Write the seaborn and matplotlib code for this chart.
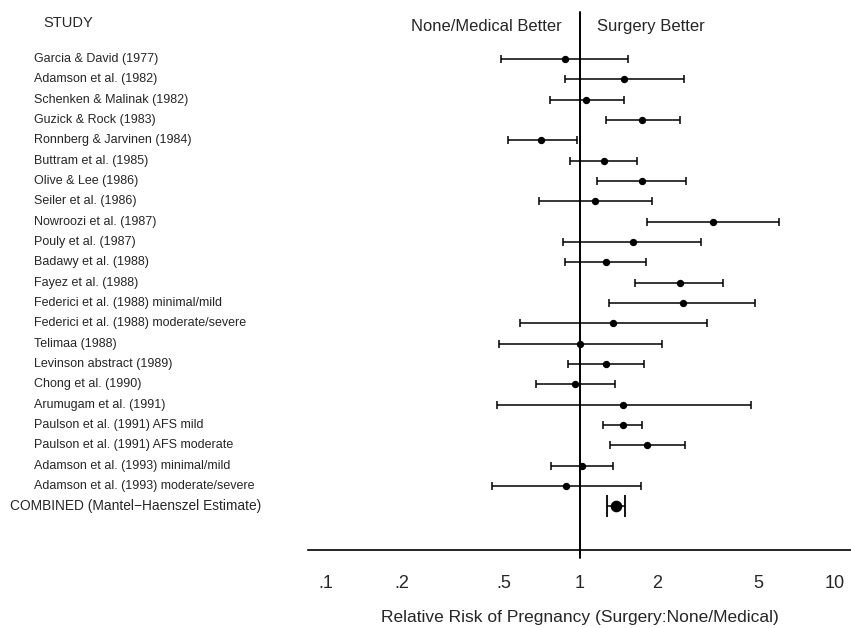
import pandas as pd
import matplotlib.pyplot as plt
import matplotlib.transforms as mtransforms
from matplotlib.ticker import NullLocator
import seaborn as sns

# study labels
studies = [
    'Garcia & David (1977)',
    'Adamson et al. (1982)',
    'Schenken & Malinak (1982)',
    'Guzick & Rock (1983)',
    'Ronnberg & Jarvinen (1984)',
    'Buttram et al. (1985)',
    'Olive & Lee (1986)',
    'Seiler et al. (1986)',
    'Nowroozi et al. (1987)',
    'Pouly et al. (1987)',
    'Badawy et al. (1988)',
    'Fayez et al. (1988)',
    'Federici et al. (1988) minimal/mild',
    'Federici et al. (1988) moderate/severe',
    'Telimaa (1988)',
    'Levinson abstract (1989)',
    'Chong et al. (1990)',
    'Arumugam et al. (1991)',
    'Paulson et al. (1991) AFS mild',
    'Paulson et al. (1991) AFS moderate',
    'Adamson et al. (1993) minimal/mild',
    'Adamson et al. (1993) moderate/severe',
]
rr = [0.87, 1.49, 1.06, 1.76, 0.70, 1.24, 1.75, 1.15, 3.34, 1.62, 1.26, 2.46,
      2.53, 1.35, 1.00, 1.27, 0.96, 1.48, 1.48, 1.84, 1.02, 0.88]
lower = [0.49, 0.87, 0.76, 1.26, 0.52, 0.91, 1.17, 0.69, 1.84, 0.86, 0.87, 1.65,
         1.30, 0.58, 0.48, 0.90, 0.67, 0.47, 1.23, 1.31, 0.77, 0.45]
upper = [1.54, 2.56, 1.49, 2.46, 0.97, 1.68, 2.61, 1.92, 6.03, 3.00, 1.81, 3.64,
         4.86, 3.15, 2.10, 1.78, 1.37, 4.68, 1.76, 2.58, 1.35, 1.73]

combined_label = 'COMBINED (Mantel\u2212Haenszel Estimate)'
combined_rr = 1.38
combined_lower = 1.28
combined_upper = 1.50

tick_values = [0.1, 0.2, 0.5, 1, 2, 5, 10]
tick_labels = ['.1', '.2', '.5', '1', '2', '5', '10']

df = pd.DataFrame({'study': studies, 'rr': rr, 'lower': lower, 'upper': upper})
df['row'] = range(len(df))
comb_row = len(df)

sns.set_style('white')
plt.rcParams['font.family'] = ['Liberation Sans', 'DejaVu Sans']

fig = plt.figure(figsize=(8.51, 6.28), dpi=100)
ax = fig.add_axes([0.362, 0.1242, 0.638, 0.857])

# confidence intervals
ax.errorbar(df['rr'], df['row'],
            xerr=[df['rr'] - df['lower'], df['upper'] - df['rr']],
            fmt='none', ecolor='black', elinewidth=1.1, capsize=3, capthick=1.1)
ax.errorbar([combined_rr], [comb_row],
            xerr=[[combined_rr - combined_lower], [combined_upper - combined_rr]],
            fmt='none', ecolor='black', elinewidth=1.1, capsize=8, capthick=1.3)

# point estimates
sns.scatterplot(data=df, x='rr', y='row', color='black', s=28, edgecolor='black',
                linewidth=0, ax=ax, zorder=3)
sns.scatterplot(x=[combined_rr], y=[comb_row], color='black', s=70,
                edgecolor='black', linewidth=0, ax=ax, zorder=3)

ax.axvline(1, color='black', lw=1.4, ymin=-0.015, ymax=1, clip_on=False)

ax.set_xscale('log')
ax.set_xlim(0.0855, 11.6)
ax.set_ylim(24.15, -2.33)
ax.set_xticks(tick_values)
ax.set_xticklabels(tick_labels, fontsize=13)
ax.xaxis.set_minor_locator(NullLocator())
ax.tick_params(axis='x', direction='out', length=6, width=1, pad=12, color='black')
ax.set_yticks([])
ax.set_xlabel('Relative Risk of Pregnancy (Surgery:None/Medical)', fontsize=12.5, labelpad=13)
ax.set_ylabel('')
sns.despine(ax=ax, left=True, right=True, top=True)
ax.spines['bottom'].set_linewidth(1.2)
ax.spines['bottom'].set_color('black')

# row labels
trans = mtransforms.blended_transform_factory(fig.transFigure, ax.transData)
for i, s in enumerate(studies):
    ax.text(0.040, i, s, transform=trans, fontsize=9, va='center', ha='left')
ax.text(0.012, comb_row, combined_label, transform=trans, fontsize=9.9,
        va='center', ha='left')
ax.text(0.051, -1.8, 'STUDY', transform=trans, fontsize=10.5, va='center', ha='left')

# direction headers
ax.text(0.85, -1.6, 'None/Medical Better', fontsize=11.9, va='center', ha='right')
ax.text(1.165, -1.6, 'Surgery Better', fontsize=12, va='center', ha='left')

plt.savefig('out.png', dpi=100)
